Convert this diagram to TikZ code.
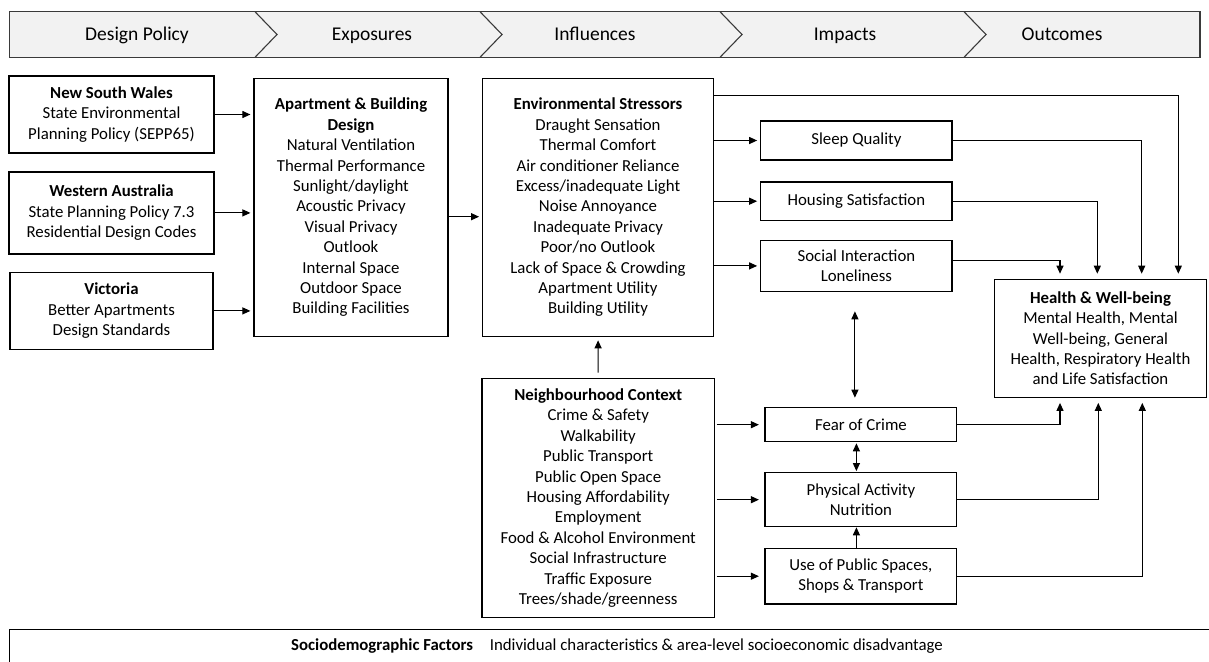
\documentclass[tikz,border=0pt]{standalone}
\usepackage{fontspec}
\setmainfont{Carlito}
\usetikzlibrary{arrows.meta,positioning}
\definecolor{bannerfill}{HTML}{F2F2F2}
\definecolor{bannerline}{HTML}{3A3A3A}

\begin{document}
\begin{tikzpicture}[x=1pt,y=-1pt,>={Triangle[length=8pt,width=7pt]},line width=1.1pt,
                    every node/.append style={font=\fontsize{16.8}{20.4}\selectfont}]
  \tikzstyle{box}=[draw=black,align=center,inner sep=0pt,line width=1.2pt]
  \tikzstyle{stage}=[anchor=base,font=\fontsize{19.5}{22}\selectfont]
  \tikzstyle{link}=[->,shorten >=3pt]
  \useasboundingbox (0,0) rectangle (1209,661);
  \clip (0,0) rectangle (1209,661);

  % banner
  \draw[bannerline,fill=bannerfill] (9.5,11.7) rectangle (1200,57.3);
  \draw[bannerline] (255,11.7) -- (277,34.5) -- (255,57.3);
  \draw[bannerline] (480,11.7) -- (502,34.5) -- (480,57.3);
  \draw[bannerline] (720,11.7) -- (742,34.5) -- (720,57.3);
  \draw[bannerline] (964,11.7) -- (986,34.5) -- (964,57.3);
  \node[stage] (stPolicy)   at (137,41)  {Design Policy};
  \node[stage] (stExpo)     at (372,41)  {Exposures};
  \node[stage] (stInfl)     at (595,41)  {Influences};
  \node[stage] (stImpact)   at (845,41)  {Impacts};
  \node[stage] (stOutcome)  at (1062,41) {Outcomes};

  % design policy
  \node[box,minimum width=205pt,minimum height=77pt] (nsw) at (111.5,114.5)
       {\textbf{New South Wales}\\State Environmental\\Planning Policy (SEPP65)};
  \node[box,minimum width=205pt,minimum height=82pt] (wa) [below=17.7pt of nsw]
       {\textbf{Western Australia}\\State Planning Policy 7.3\\Residential Design Codes};
  \node[box,minimum width=203pt,minimum height=77pt] (vic) [below=17.3pt of wa]
       {\textbf{Victoria}\\Better Apartments\\Design Standards};

  % exposures / influences
  \node[box,minimum width=194pt,minimum height=258.4pt] (apt) at (351,207.5)
       {\textbf{Apartment \& Building}\\\textbf{Design}\\Natural Ventilation\\Thermal Performance\\
        Sunlight/daylight\\Acoustic Privacy\\Visual Privacy\\Outlook\\Internal Space\\
        Outdoor Space\\Building Facilities};
  \node[box,minimum width=230.6pt,minimum height=258.4pt] (env) at (598,207.5)
       {\textbf{Environmental Stressors}\\Draught Sensation\\Thermal Comfort\\
        Air conditioner Reliance\\Excess/inadequate Light\\Noise Annoyance\\
        Inadequate Privacy\\Poor/no Outlook\\Lack of Space \& Crowding\\
        Apartment Utility\\Building Utility};
  \node[box,minimum width=232.3pt,minimum height=239.4pt] (neigh) at (598.2,498)
       {\textbf{Neighbourhood Context}\\Crime \& Safety\\Walkability\\Public Transport\\
        Public Open Space\\Housing Affordability\\Employment\\
        Food \& Alcohol Environment\\Social Infrastructure\\Traffic Exposure\\
        Trees/shade/greenness};

  % impacts
  \node[box,minimum width=191.3pt,minimum height=39pt] (sleep) at (856.4,140.5) {Sleep Quality};
  \node[box,minimum width=191.3pt,minimum height=38.6pt] (housing) [below=20.7pt of sleep]
       {Housing Satisfaction};
  \node[box,minimum width=191.3pt,minimum height=50.4pt] (social) [below=19pt of housing]
       {Social Interaction\\Loneliness};
  \node[box,minimum width=191.8pt,minimum height=34pt] (fear) at (860.9,424.7) {Fear of Crime};
  \node[box,minimum width=191.8pt,minimum height=54pt] (pa) at (860.9,499.7)
       {Physical Activity\\Nutrition};
  \node[box,minimum width=191.8pt,minimum height=55.7pt] (use) at (860.9,576.2)
       {Use of Public Spaces,\\Shops \& Transport};

  % outcomes
  \node[box,minimum width=212.4pt,minimum height=118pt] (health) at (1100.5,338.3)
       {\textbf{Health \& Well-being}\\Mental Health, Mental\\Well-being, General\\
        Health, Respiratory Health\\and Life Satisfaction};

  % sociodemographic bar
  \draw[line width=1.2pt] (9.5,675) -- (9.5,629.3) -- (1215,629.3) -- (1215,675);
  \node (socio) at (617,646)
       {\textbf{Sociodemographic Factors}\quad Individual characteristics \& area-level socioeconomic disadvantage};

  % connectors
  \draw[link] (nsw.east) -- (nsw.east -| apt.west);
  \draw[link] (wa.east) -- (wa.east -| apt.west);
  \draw[link] (vic.east) -- (vic.east -| apt.west);
  \draw[link] ([yshift=-9.2pt]apt.east) -- ([yshift=-9.2pt]apt.east -| env.west);
  \draw[link] (env.east |- sleep.west) -- (sleep.west);
  \draw[link] (env.east |- housing.west) -- (housing.west);
  \draw[link] (env.east |- social.west) -- (social.west);
  \draw[link,shorten <=5pt] (neigh) -- (env);
  \draw[link,shorten >=5.5pt,shorten <=1.7pt] (neigh.east |- fear.west) -- (fear.west);
  \draw[link,shorten >=5.5pt,shorten <=1.7pt] (neigh.east |- pa.west) -- (pa.west);
  \draw[link,shorten >=5.5pt,shorten <=1.7pt] (neigh.east |- use.west) -- (use.west);

  \draw[<->,shorten <=19.6pt,shorten >=9.4pt] ([xshift=-1.5pt]social.south) -- ([xshift=-1.5pt]social.south |- fear.north);
  \draw[<->,shorten <=1pt,shorten >=1pt] (fear.south -| social.south) -- (pa.north -| social.south);
  \draw[->] (use.north -| social.south) -- (pa.south -| social.south);

  \draw[->,shorten >=5pt] ([yshift=-17.7pt]env.north east) -| ([xshift=77.8pt]health.north);
  \draw[->,shorten >=5pt] (sleep.east) -| ([xshift=41.2pt]health.north);
  \draw[->,shorten >=5pt] (housing.east) -| ([xshift=-3.2pt]health.north);
  \draw[->,shorten >=5pt] ([yshift=5.8pt]social.east) -| ([xshift=-40.5pt]health.north);
  \draw[->,shorten >=5pt] (fear.east) -| ([xshift=-40.5pt]health.south);
  \draw[->,shorten >=5pt] (pa.east) -| ([xshift=-2.2pt]health.south);
  \draw[->,shorten >=5pt] (use.east) -| ([xshift=41.8pt]health.south);
\end{tikzpicture}
\end{document}
